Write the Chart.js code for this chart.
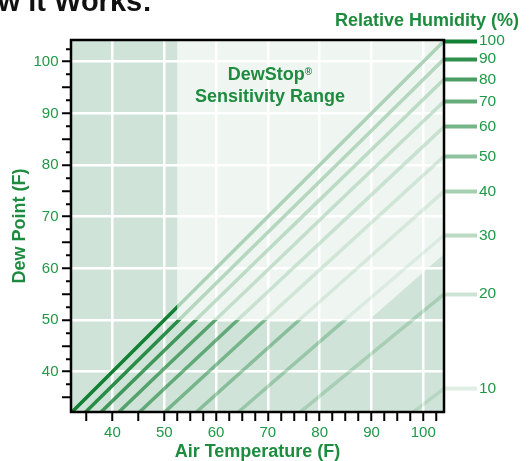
<!DOCTYPE html>
<html><head><meta charset="utf-8">
<script src="https://cdn.jsdelivr.net/npm/chart.js@4.4.1/dist/chart.umd.min.js"></script>
<style>
html,body{margin:0;padding:0;background:#fff;overflow:hidden}
#wrap{position:relative;width:529px;height:461px;overflow:hidden;font-family:"Liberation Sans",Arial,sans-serif}
#wrap canvas{position:absolute;left:0;top:0}
.t{position:absolute;white-space:nowrap;font-weight:bold}
</style></head><body>
<div id="wrap">
<canvas id="c" width="529" height="461"></canvas>
<div class="t" style="left:-41px;top:-13px;font-size:29px;line-height:28px;color:#111">How it Works:</div>
<div class="t" style="right:10px;top:10px;font-size:18px;line-height:20px;color:#1d8c3e">Relative Humidity (%)</div>
<div class="t" style="left:160px;width:220px;top:63px;text-align:center;font-size:18px;line-height:22px;color:#1d8c3e">DewStop<sup style="font-size:10px;vertical-align:top;position:relative;top:-2px">®</sup><br>Sensitivity Range</div>
</div>
<script>
// ---- data ----
const airTemps = [32, 50, 68, 86, 104];
const rhLabels = ['100', '90', '80', '70', '60', '50', '40', '30', '20', '10'];
const dew100 = [32, 50, 68, 86, 104];
const dew90  = [29.4, 47.2, 65.0, 82.7, 100.5];
const dew80  = [26.5, 44.1, 61.6, 79.1, 96.6];
const dew70  = [23.3, 40.6, 57.8, 75.1, 92.3];
const dew60  = [19.7, 36.7, 53.6, 70.5, 87.4];
const dew50  = [15.4, 32.1, 48.7, 65.2, 81.7];
const dew40  = [10.4, 26.6, 42.8, 58.9, 74.9];
const dew30  = [4.0, 19.7, 35.4, 51.0, 66.4];
const dew20  = [-4.6, 10.4, 25.4, 40.2, 55.0];
const dew10  = [-18.6, -4.6, 9.3, 23.1, 36.7];
const dewSeries = [dew100, dew90, dew80, dew70, dew60, dew50, dew40, dew30, dew20, dew10];
const xTickValues = [35, 40, 45, 50, 52.5, 55, 57.5, 60, 62.5, 65, 67.5, 70, 72.5, 75, 77.5, 80, 82.5, 85, 87.5, 90, 92.5, 95, 97.5, 100, 102.5];
const yTickValues = [35, 37.5, 40, 42.5, 45, 47.5, 50, 52.5, 55, 57.5, 60, 62.5, 65, 67.5, 70, 72.5, 75, 77.5, 80, 82.5, 85, 87.5, 90, 92.5, 95, 97.5, 100, 102.5];
const rangeTemps = [52.5, 52.5, 104, 104, 89.5];
const rangeDews  = [50, 104.2, 104.2, 62.8, 50];

// ---- styles ----
const GREEN_TXT = '#1f9848';
const GREEN_TTL = '#1d8c3e';
const lineAlphas = [1, 0.88, 0.76, 0.65, 0.58, 0.47, 0.38, 0.29, 0.21, 0.13];
const lineColor = i => 'rgba(18,128,50,' + lineAlphas[i] + ')';
const FONT = '"Liberation Sans", Arial, sans-serif';

const datasets = dewSeries.map((s, i) => ({
  label: rhLabels[i] + '%',
  data: airTemps.map((t, j) => ({x: t, y: s[j]})),
  borderColor: lineColor(i),
  borderWidth: 3.5,
  pointRadius: 0,
  cubicInterpolationMode: 'monotone',
  borderCapStyle: 'butt',
  clip: 0,
  yAxisID: 'y'
}));

const bgPlugin = {
  id: 'bg',
  beforeDraw(chart) {
    const {ctx, chartArea: a} = chart;
    ctx.save();
    ctx.fillStyle = '#d0e3d8';
    ctx.fillRect(a.left, a.top, a.right - a.left, a.bottom - a.top);
    ctx.restore();
  }
};
const overlayPlugin = {
  id: 'overlay',
  afterDatasetsDraw(chart) {
    const {ctx, chartArea: a, scales: {x, y}} = chart;
    ctx.save();
    ctx.beginPath();
    ctx.rect(a.left, a.top, a.right - a.left, a.bottom - a.top);
    ctx.clip();
    ctx.beginPath();
    rangeTemps.forEach((t, i) => {
      const px = x.getPixelForValue(t), py = y.getPixelForValue(rangeDews[i]);
      if (i === 0) ctx.moveTo(px, py); else ctx.lineTo(px, py);
    });
    ctx.closePath();
    ctx.fillStyle = 'rgba(255,255,255,0.65)';
    ctx.fill();
    ctx.restore();
  }
};
const framePlugin = {
  id: 'frame',
  afterDraw(chart) {
    const {ctx, chartArea: a} = chart;
    ctx.save();
    ctx.strokeStyle = '#000';
    ctx.lineWidth = 2.5;
    ctx.strokeRect(a.left, a.top, a.right - a.left, a.bottom - a.top);
    ctx.restore();
  }
};

new Chart(document.getElementById('c'), {
  type: 'line',
  data: {datasets},
  plugins: [bgPlugin, overlayPlugin, framePlugin],
  options: {
    responsive: false,
    animation: false,
    layout: {padding: {top: 40, left: 0, right: 0, bottom: 0}},
    plugins: {legend: {display: false}, tooltip: {enabled: false}},
    scales: {
      x: {
        type: 'linear', min: 32, max: 104,
        afterBuildTicks: s => { s.ticks = xTickValues.map(v => ({value: v})); },
        afterFit: s => { s.height = 49; },
        border: {display: false},
        grid: {
          color: c => (c.tick && c.tick.value % 10 === 0) ? '#ffffff' : 'rgba(0,0,0,0)',
          lineWidth: 2.5, tickColor: '#000', tickWidth: 2, tickLength: 9
        },
        ticks: {
          autoSkip: false, maxRotation: 0, padding: 3, color: GREEN_TXT,
          font: {family: FONT, size: 15},
          callback: v => (v % 10 === 0 ? String(v) : '')
        },
        title: {display: true, text: 'Air Temperature (F)', color: GREEN_TTL,
          font: {family: FONT, size: 18, weight: 'bold', lineHeight: 1}, padding: {top: 0, bottom: 0}}
      },
      y: {
        type: 'linear', position: 'left', min: 32.2, max: 104.2,
        afterBuildTicks: s => { s.ticks = yTickValues.map(v => ({value: v})); },
        afterFit: s => { s.width = 71; },
        border: {display: false},
        grid: {
          color: c => (c.tick && c.tick.value % 10 === 0) ? '#ffffff' : 'rgba(0,0,0,0)',
          lineWidth: 2.5, tickColor: '#000', tickWidth: 2, tickLength: 9,
          tickBorderDash: c => (c.tick && c.tick.value % 5 !== 0) ? [0, 4, 6, 30] : []
        },
        ticks: {
          autoSkip: false, padding: 3.5, color: GREEN_TXT,
          font: {family: FONT, size: 15},
          callback: v => (v % 10 === 0 ? String(v) : '')
        },
        title: {display: true, text: 'Dew Point (F)', color: GREEN_TTL,
          font: {family: FONT, size: 18, weight: 'bold', lineHeight: 1}, padding: {top: 11.5, bottom: 0}}
      },
      y2: {
        type: 'linear', position: 'right', min: 32.2, max: 104.2,
        afterBuildTicks: s => { s.ticks = dewSeries.map(d => ({value: d[d.length - 1]})); },
        afterFit: s => { s.width = 85; },
        border: {display: false},
        grid: {
          drawOnChartArea: false, tickLength: 33, tickWidth: 4,
          tickColor: c => lineColor(c.index)
        },
        ticks: {
          autoSkip: false, padding: 2, color: GREEN_TXT,
          font: {family: FONT, size: 15.5},
          callback: (v, i) => rhLabels[i]
        }
      }
    }
  }
});
</script>
</body></html>
